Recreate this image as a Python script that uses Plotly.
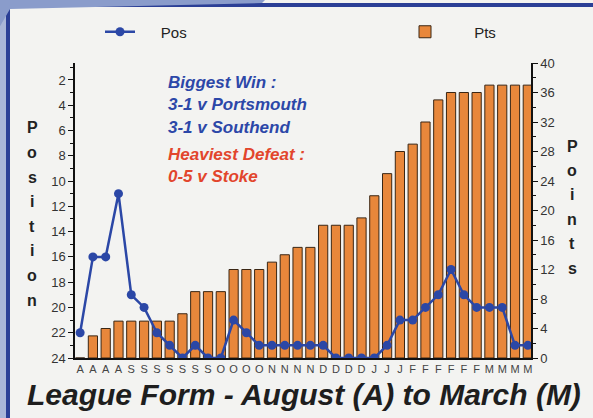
import plotly.graph_objects as go

# ---- data ----
match_labels = ["A","A","A","A","S","S","S","S","S","S","S","O","O","O","O",
                "N","N","N","N","D","D","D","D","J","J","J",
                "F","F","F","F","F","F","M","M","M","M"]
position = [22,16,16,11,19,20,22,23,24,23,24,24,21,22,23,23,23,23,23,23,
            24,24,24,24,23,21,21,20,19,17,19,20,20,20,23,23]
points = [0,3,4,5,5,5,5,5,6,9,9,9,12,12,12,13,14,15,15,18,
          18,18,19,22,25,28,29,32,35,36,36,36,37,37,37,37]
pos_ticks = list(range(2, 25, 2))
pts_ticks = list(range(0, 41, 4))
notes_blue = ["Biggest Win :", "3-1 v Portsmouth", "3-1 v Southend"]
notes_red = ["Heaviest Defeat :", "0-5 v Stoke"]
title_text = "League Form - August (A) to March (M)"

W, H = 593, 418
ML, MR, MT, MB = 75, 62, 63, 60
PW, PH = W - ML - MR, H - MT - MB

def px(x):
    return (x - ML) / PW

def py(y):
    return (H - MB - y) / PH

xs = list(range(len(match_labels)))
NB = "\u00a0"

fig = go.Figure()
fig.add_trace(go.Bar(
    x=xs, y=points, name=NB * 7 + "Pts",
    marker=dict(color="#E8873B", line=dict(color="#3a2614", width=1)),
    width=0.72, yaxis="y", legend="legend2", showlegend=True,
))
fig.add_trace(go.Scatter(
    x=xs, y=position, name=NB * 5 + "Pos", mode="lines+markers",
    line=dict(color="#2B47A6", width=2.5),
    marker=dict(color="#2B47A6", size=9),
    yaxis="y2", legend="legend", showlegend=True,
))

font_main = "Liberation Sans, Arial, Helvetica, sans-serif"
annotations = []
for i, t in enumerate(notes_blue):
    annotations.append(dict(x=px(166), y=py(82 + i * 22.7), xref="paper", yref="paper",
                            text=f"<b><i>{t}</i></b>", showarrow=False, xanchor="left",
                            yanchor="middle", font=dict(size=17, color="#2C47A8")))
for i, t in enumerate(notes_red):
    annotations.append(dict(x=px(166), y=py(154 + i * 22.7), xref="paper", yref="paper",
                            text=f"<b><i>{t}</i></b>", showarrow=False, xanchor="left",
                            yanchor="middle", font=dict(size=17, color="#E2452C")))
for i, ch in enumerate("Position"):
    annotations.append(dict(x=px(32), y=py(128 + i * 24.6), xref="paper", yref="paper",
                            text=f"<b>{ch}</b>", showarrow=False, xanchor="center",
                            yanchor="middle", font=dict(size=16, color="#222")))
for i, ch in enumerate("Points"):
    annotations.append(dict(x=px(572), y=py(146 + i * 24.4), xref="paper", yref="paper",
                            text=f"<b>{ch}</b>", showarrow=False, xanchor="center",
                            yanchor="middle", font=dict(size=16, color="#222")))
annotations.append(dict(x=px(304), y=py(394), xref="paper", yref="paper",
                        text=f"<b><i>{title_text}</i></b>", showarrow=False,
                        xanchor="center", yanchor="middle",
                        font=dict(size=30, color="#1e1e1e")))

shapes = [
    dict(type="rect", xref="paper", yref="paper", x0=px(8), x1=px(W + 5), y0=py(7), y1=py(3),
         fillcolor="#2B3F96", line=dict(width=0), layer="below"),
    dict(type="rect", xref="paper", yref="paper", x0=px(6), x1=px(10), y0=py(H + 5), y1=py(3),
         fillcolor="#2B3F96", line=dict(width=0), layer="below"),
    dict(type="rect", xref="paper", yref="paper", x0=px(-5), x1=px(6), y0=py(H + 5), y1=py(-5),
         fillcolor="#A9B6D8", line=dict(width=0), layer="below"),
    dict(type="path", xref="paper", yref="paper",
         path=(f"M {px(-5)},{py(-5)} L {px(270)},{py(-5)} L {px(262)},{py(3)} "
               f"L {px(10)},{py(9)} L {px(-5)},{py(35)} Z"),
         fillcolor="#8A9CCB", line=dict(width=0), layer="below"),
]

fig.update_layout(
    width=W, height=H,
    margin=dict(l=ML, r=MR, t=MT, b=MB, autoexpand=False),
    showlegend=True,
    paper_bgcolor="#F3F3F1", plot_bgcolor="rgba(0,0,0,0)",
    font=dict(family=font_main, color="#333"),
    xaxis=dict(range=[-0.4, 35.25], tickmode="array", tickvals=xs, ticktext=match_labels,
               showgrid=False, zeroline=False, showline=True, linecolor="#111", linewidth=1.5,
               ticks="", tickfont=dict(size=11, color="#444"), fixedrange=True),
    yaxis=dict(range=[0, 40], side="right", tickvals=pts_ticks, showgrid=False, zeroline=False,
               showline=True, linecolor="#111", linewidth=1.5, ticks="outside", ticklen=5,
               tickcolor="#111", tickfont=dict(size=13, color="#333"),
               minor=dict(dtick=2, ticks="outside", ticklen=3, tickcolor="#111")),
    yaxis2=dict(range=[24, 0.66], side="left", overlaying="y", tickvals=pos_ticks,
                showgrid=False, zeroline=False, showline=True, linecolor="#111", linewidth=1.5,
                ticks="outside", ticklen=5, tickcolor="#111", tickfont=dict(size=13, color="#333"),
                minor=dict(tickvals=list(range(1, 25, 2)), ticks="outside", ticklen=3,
                           tickcolor="#111")),
    legend=dict(x=px(100), y=py(32), xanchor="left", yanchor="middle", orientation="h",
                bgcolor="rgba(0,0,0,0)", font=dict(size=15, color="#222")),
    legend2=dict(x=px(405), y=py(32), xanchor="left", yanchor="middle", orientation="h",
                 bgcolor="rgba(0,0,0,0)", font=dict(size=15, color="#222")),
    annotations=annotations,
    shapes=shapes,
)

fig.write_html("out.html", config={"displayModeBar": False},
               post_script="document.body.style.margin='0';document.body.style.padding='0';")
